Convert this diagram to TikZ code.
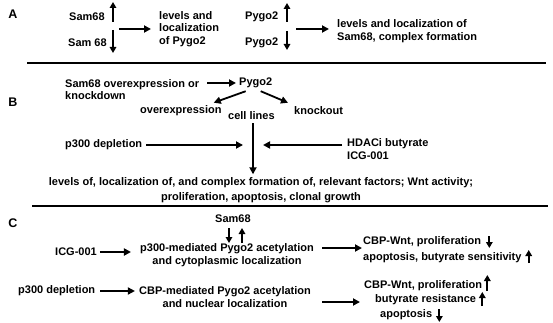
\documentclass[tikz,border=0pt]{standalone}
\usepackage{fontspec}
\setmainfont{Liberation Sans}
\usetikzlibrary{arrows.meta,positioning}
\tikzset{
  txt/.style={font=\fontsize{11}{12.7}\selectfont\bfseries, inner sep=0pt, anchor=west, align=left},
  mid/.style={txt, anchor=center, align=center},
  tag/.style={font=\fontsize{12.5}{14}\selectfont\bfseries, inner sep=0pt},
  flow/.style={-{Triangle[length=7pt,width=7pt]}, line width=1.8pt},
  updown/.style={-{Triangle[length=6pt,width=6.5pt]}, line width=1.8pt},
  sep/.style={line width=2pt},
}
\begin{document}
\begin{tikzpicture}[x=1pt,y=-1pt]
  \useasboundingbox (0,0) rectangle (553,323);
  % panel A
  \node[tag](pA) at (13,14){A};
  \node[txt](s1) at (69,17){Sam68};
  \node[txt](s2) at (68,43){Sam 68};
  \coordinate (s1a) at (113,22); \coordinate (s1b) at (113,2);
  \coordinate (s2a) at (113,30); \coordinate (s2b) at (113,53);
  \draw[updown](s1a)--(s1b);
  \draw[updown](s2a)--(s2b);
  \node[txt](lev1) at (159,29){levels and\\localization\\of Pygo2};
  \coordinate (s12) at (119,29);
  \draw[flow,shorten >=8pt](s12)--(lev1.west);
  \node[txt](p1) at (245,17){Pygo2};
  \node[txt](p2) at (245,43){Pygo2};
  \coordinate (p1a) at (287,22); \coordinate (p1b) at (287,3);
  \coordinate (p2a) at (287,31); \coordinate (p2b) at (287,50);
  \draw[updown](p1a)--(p1b);
  \draw[updown](p2a)--(p2b);
  \node[txt](lev2) at (337,31){levels and localization of\\Sam68, complex formation};
  \coordinate (p12) at (296,29);
  \draw[flow,shorten >=8pt](p12)--(lev2.west |- p12);
  \draw[sep](27,63)--(546,63);
  % panel B
  \node[tag](pB) at (13,102){B};
  \node[txt](sam) at (65,89.5){Sam68 overexpression or\\knockdown};
  \node[txt](pyg) at (239,83){Pygo2};
  \coordinate (oe) at (207,83);
  \draw[flow,shorten >=3pt](oe)--(pyg.west);
  \node[txt](ov) at (140,111){overexpression};
  \node[txt](cl) at (228,116){cell lines};
  \node[txt](ko) at (294,111){knockout};
  \draw[flow]([xshift=-10pt,yshift=-3pt]pyg.south)--([xshift=-8pt,yshift=3pt]ov.north east);
  \draw[flow]([xshift=5pt,yshift=-3pt]pyg.south)--([xshift=-6pt,yshift=4pt]ko.north west);
  \node[txt](p3) at (65,145){p300 depletion};
  \node[txt](hd) at (347,149){HDACi butyrate\\ICG-001};
  \coordinate (hub) at (253,145);
  \draw[flow,shorten <=4pt,shorten >=10pt](p3.east)--(hub);
  \draw[flow,shorten <=5pt,shorten >=10pt]([yshift=4pt]hd.west)--(hub);
  \node[mid](res) at (261,190){levels of, localization of, and complex formation of, relevant factors; Wnt activity;\\[2pt]proliferation, apoptosis, clonal growth};
  \draw[flow,shorten <=3pt,shorten >=3pt](cl.south -| hub)--(hub |- res.north);
  \draw[sep](32,206)--(548,206);
  % panel C
  \node[tag](pC) at (13,223){C};
  \node[txt](sm) at (215,219){Sam68};
  \coordinate (smd) at (229,228); \coordinate (smu) at (242,243);
  \draw[updown](smd)--++(0,15);
  \draw[updown](smu)--++(0,-15);
  \node[txt](icg) at (55,252){ICG-001};
  \node[mid](pm) at (227,255.5){p300-mediated Pygo2 acetylation\\and cytoplasmic localization};
  \draw[flow,shorten <=3pt,shorten >=9pt](icg.east)--(icg.east -| pm.west);
  \node[txt](o1a) at (363,242){CBP-Wnt, proliferation};
  \node[txt](o1b) at (363,258){apoptosis, butyrate sensitivity};
  \coordinate (m1) at (322,248); \coordinate (m1e) at (362,248);
  \draw[flow](m1)--(m1e);
  \draw[updown]([xshift=8pt,yshift=6pt]o1a.east)--++(0,12);
  \draw[updown]([xshift=7pt,yshift=-5pt]o1b.east)--++(0,-13);
  \node[txt](pd) at (18,291){p300 depletion};
  \node[mid](cm) at (225,297){CBP-mediated Pygo2 acetylation\\and nuclear localization};
  \draw[flow,shorten <=5pt,shorten >=4pt](pd.east)--(pd.east -| cm.west);
  \node[txt](o2a) at (364,286){CBP-Wnt, proliferation};
  \node[txt](o2b) at (375,300){butyrate resistance};
  \node[txt](o2c) at (380,315){apoptosis};
  \coordinate (m2) at (322,302); \coordinate (m2e) at (360,302);
  \draw[flow](m2)--(m2e);
  \draw[updown]([xshift=5pt,yshift=-5pt]o2a.east)--++(0,-16);
  \draw[updown]([xshift=6pt,yshift=-6pt]o2b.east)--++(0,-14);
  \draw[updown]([xshift=7pt,yshift=6pt]o2c.east)--++(0,13);
\end{tikzpicture}
\end{document}
